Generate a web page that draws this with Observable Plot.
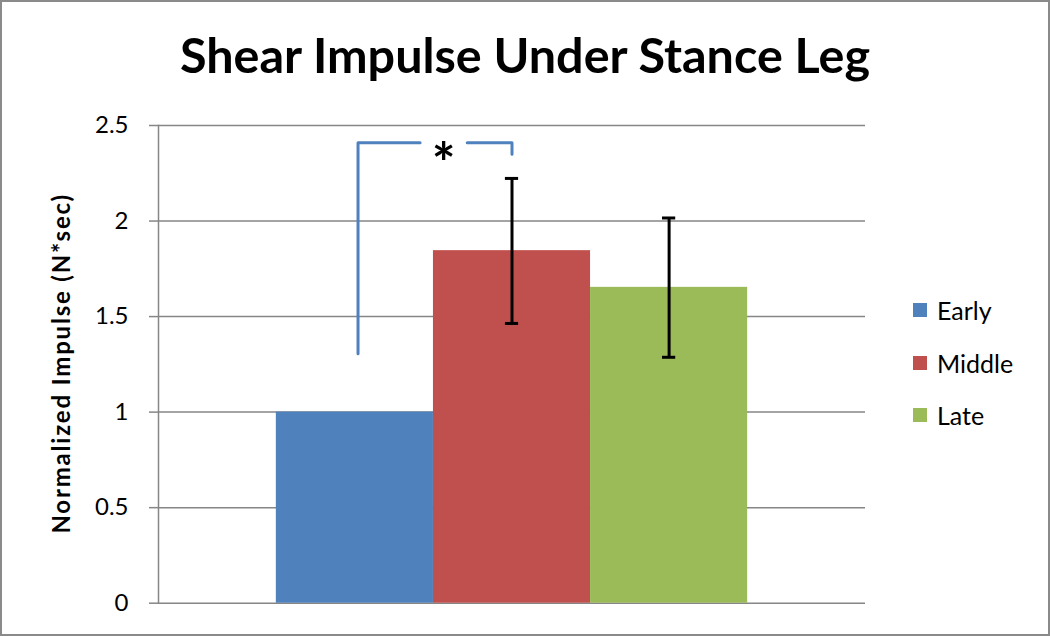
<!DOCTYPE html>
<html>
<head>
<meta charset="utf-8">
<script src="https://cdn.jsdelivr.net/npm/d3@7"></script>
<script src="https://cdn.jsdelivr.net/npm/@observablehq/plot@0.6"></script>
<style>
  body { margin: 0; background: #fff; }
  #frame { position: relative; width: 1050px; height: 636px; box-sizing: border-box;
           border: 2px solid #8a8a8a; background: #fff; font-family: Lato, "Open Sans", sans-serif; overflow: hidden; }
  #title { position: absolute; left: 0; top: 22px; width: 100%; text-align: center;
           font-weight: bold; font-size: 48.5px; line-height: 60px; color: #000; }
  #chart { position: absolute; left: 0; top: 108px; }
  #legend { position: absolute; left: 911px; top: 282px; }
  .row { display: flex; align-items: center; height: 52.5px; font-size: 25px; color: #000; }
  .sw { width: 14px; height: 14px; margin-right: 10px; }
</style>
</head>
<body>
<div id="frame">
  <div id="title"></div>
  <div id="chart"></div>
  <div id="legend"></div>
</div>
<script>
const titleText = "Shear Impulse Under Stance Leg";
const yLabel = "Normalized Impulse (N*sec)";
const categories = ["Early", "Middle", "Late"];
const means = [1.0, 1.845, 1.653];
const errLow = [null, 1.464, 1.287];
const errHigh = [null, 2.223, 2.016];
const colors = ["#4F81BD", "#C0504D", "#9BBB59"];
const yTicks = [0, 0.5, 1, 1.5, 2, 2.5];
// significance bracket (x in category-index units, y in data units)
const bracketLeftX = [0.02, 0.02, 0.415];
const bracketLeftY = [1.306, 2.41, 2.41];
const bracketRightX = [0.715, 1.0, 1.0];
const bracketRightY = [2.41, 2.41, 2.35];
const starX = 0.565, starY = 2.41, starText = "*";

document.getElementById("title").textContent = titleText;

const bars = categories.map((c, i) => ({cat: c, i, mean: means[i], lo: errLow[i], hi: errHigh[i]}));
const errs = bars.filter(d => d.lo != null);
const bL = bracketLeftX.map((x, k) => ({x, y: bracketLeftY[k]}));
const bR = bracketRightX.map((x, k) => ({x, y: bracketRightY[k]}));
const capHalf = 0.042;

const chart = Plot.plot({
  width: 1046, height: 524,
  marginLeft: 156, marginRight: 183, marginTop: 15, marginBottom: 31.3,
  style: {fontFamily: "Lato, 'Open Sans', sans-serif", color: "#000", background: "#fff", overflow: "visible"},
  x: {type: "linear", domain: [-1.25, 3.25], axis: null},
  y: {domain: [0, 2.5], axis: null},
  color: {domain: categories, range: colors},
  marks: [
    Plot.gridY(yTicks, {stroke: "#868686", strokeOpacity: 1, strokeWidth: 1.5}),
    Plot.rectY(bars, {x1: d => d.i - 0.5, x2: d => d.i + 0.5, y: "mean", fill: "cat"}),
    Plot.frame({anchor: "left", stroke: "#868686", strokeWidth: 1.5}),
    Plot.axisY(yTicks, {tickSize: 9, tickPadding: 21, fontSize: 24, stroke: "#868686", strokeWidth: 1.5, label: null, tickFormat: d => String(d)}),
    Plot.ruleX(errs, {x: "i", y1: "lo", y2: "hi", stroke: "#000", strokeWidth: 3}),
    Plot.ruleY(errs, {y: "hi", x1: d => d.i - capHalf, x2: d => d.i + capHalf, stroke: "#000", strokeWidth: 3}),
    Plot.ruleY(errs, {y: "lo", x1: d => d.i - capHalf, x2: d => d.i + capHalf, stroke: "#000", strokeWidth: 3}),
    Plot.line(bL, {x: "x", y: "y", stroke: colors[0], strokeWidth: 3}),
    Plot.line(bR, {x: "x", y: "y", stroke: colors[0], strokeWidth: 3}),
    Plot.text([{x: starX, y: starY}], {x: "x", y: "y", text: () => starText, fontSize: 56, fontWeight: "bold", dy: 22, textAnchor: "middle"}),
    Plot.text([yLabel], {frameAnchor: "left", rotate: -90, dx: -96, dy: -1, fontWeight: "bold", fontSize: 24, textAnchor: "middle"})
  ]
});
d3.select(chart).selectAll("text").filter(function() { return this.textContent === yLabel; })
  .style("letter-spacing", "1.8px");
document.getElementById("chart").appendChild(chart);

const legend = document.getElementById("legend");
categories.forEach((c, i) => {
  const row = document.createElement("div");
  row.className = "row";
  const sw = document.createElement("div");
  sw.className = "sw";
  sw.style.background = colors[i];
  const t = document.createElement("span");
  t.textContent = c;
  row.appendChild(sw); row.appendChild(t);
  legend.appendChild(row);
});
</script>
</body>
</html>
